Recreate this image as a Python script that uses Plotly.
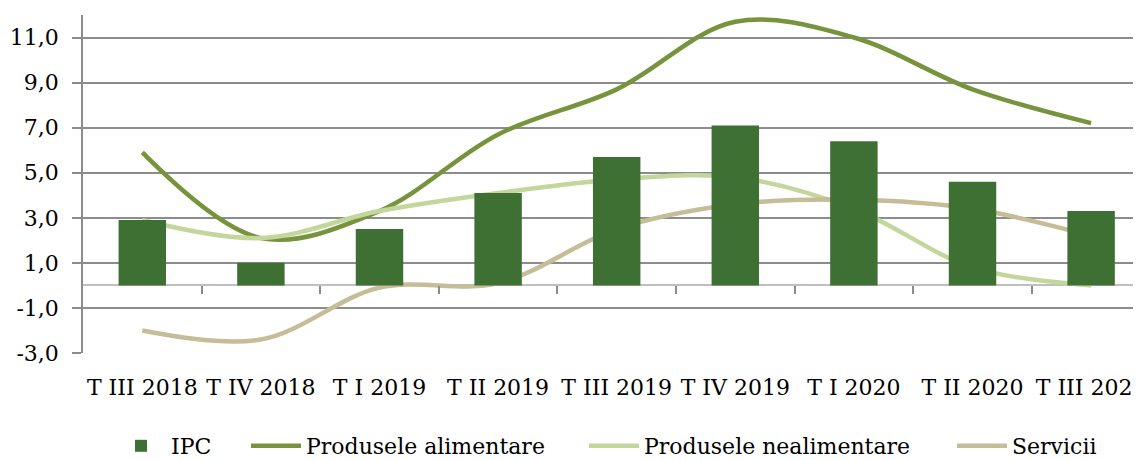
import plotly.graph_objects as go

categories = ["T III 2018", "T IV 2018", "T I 2019", "T II 2019", "T III 2019",
              "T IV 2019", "T I 2020", "T II 2020", "T III 2020"]
ipc = [2.9, 1.0, 2.5, 4.1, 5.7, 7.1, 6.4, 4.6, 3.3]
alimentare = [5.9, 2.1, 3.3, 6.7, 8.7, 11.7, 11.0, 8.7, 7.2]
nealimentare = [2.9, 2.1, 3.3, 4.1, 4.7, 4.8, 3.4, 0.8, 0.0]
servicii = [-2.0, -2.4, -0.1, 0.1, 2.5, 3.6, 3.8, 3.4, 2.2]
y_ticks = [-3, -1, 1, 3, 5, 7, 9, 11]
y_ticktext = ["-3,0", "-1,0", "1,0", "3,0", "5,0", "7,0", "9,0", "11,0"]

FONT = "DejaVu Serif"
idx = list(range(len(categories)))

fig = go.Figure()
fig.add_trace(go.Bar(x=idx, y=ipc, name="IPC", marker_color="#3e7034",
                     marker_line_width=0, legend="legend", showlegend=True,
                     xaxis="x2", yaxis="y"))
fig.add_trace(go.Scatter(x=idx, y=alimentare, name="Produsele alimentare", mode="lines",
                         line=dict(color="#77933c", width=4.5, shape="spline", smoothing=1.0),
                         legend="legend2", showlegend=True))
fig.add_trace(go.Scatter(x=idx, y=nealimentare, name="Produsele nealimentare", mode="lines",
                         line=dict(color="#c3d69b", width=4.5, shape="spline", smoothing=1.0),
                         legend="legend3", showlegend=True))
fig.add_trace(go.Scatter(x=idx, y=servicii, name="Servicii", mode="lines",
                         line=dict(color="#c4bd97", width=4.5, shape="spline", smoothing=1.0),
                         legend="legend4", showlegend=True))

# figure coordinates (page has an 8px body margin)
W, H = 1141, 460
L, T, B = 75, 7, 345
R = W
pw = R - L
x_max = -0.5 + pw / 118.6

def px(x):
    return (x - L) / pw

leg_y = (B - 438) / (B - T)
legend_common = dict(orientation="h", yanchor="middle", y=leg_y, xanchor="left",
                     font=dict(family=FONT, size=22, color="#000000"),
                     bgcolor="rgba(0,0,0,0)", itemwidth=50)

fig.update_layout(
    width=W, height=H,
    margin=dict(l=L, r=W - R, t=T, b=H - B, autoexpand=False),
    paper_bgcolor="white", plot_bgcolor="white",
    showlegend=True,
    bargap=0.6,
    font=dict(family=FONT, size=22, color="#000000"),
    xaxis=dict(range=[-0.5, x_max], tickvals=idx, ticktext=categories,
               showgrid=False, zeroline=False, showline=False, ticks="",
               automargin=False, ticklabeloverflow="allow",
               ticklabelstandoff=19, tickfont=dict(family=FONT, size=22, color="#000000")),
    xaxis2=dict(overlaying="x", anchor="free", position=0.2, range=[-0.5, x_max],
                tickvals=[i + 0.5 for i in idx], showticklabels=False,
                ticks="outside", ticklen=8, tickwidth=1.5, tickcolor="#8c8c8c",
                automargin=False,
                showgrid=False, zeroline=False, showline=False),
    yaxis=dict(range=[-3, 12], tickvals=y_ticks, ticktext=y_ticktext,
               showgrid=True, gridcolor="#8c8c8c", gridwidth=1.5,
               zeroline=True, zerolinecolor="#bfbfbf", zerolinewidth=1.5,
               showline=True, linecolor="#8c8c8c", linewidth=1.5,
               ticks="outside", ticklen=9, tickwidth=1.5, tickcolor="#8c8c8c",
               automargin=False,
               ticklabelstandoff=9, tickfont=dict(family=FONT, size=22, color="#000000")),
    legend=dict(legend_common, x=px(103)),
    legend2=dict(legend_common, x=px(238)),
    legend3=dict(legend_common, x=px(576)),
    legend4=dict(legend_common, x=px(944)),
)

fig.write_html("out.html")
